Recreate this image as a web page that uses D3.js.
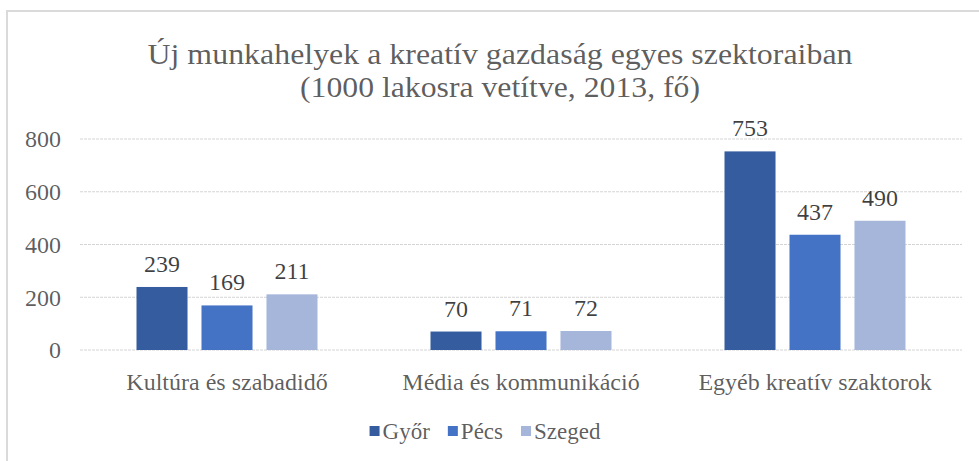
<!DOCTYPE html>
<html>
<head>
<meta charset="utf-8">
<script src="https://cdn.jsdelivr.net/npm/d3@7"></script>
<style>
  body { margin: 0; background: #fff; }
  svg { display: block; }
</style>
</head>
<body>
<svg id="chart" width="979" height="461"></svg>
<script>
const categories = ['Kultúra és szabadidő', 'Média és kommunikáció', 'Egyéb kreatív szaktorok'];
const series = ['Győr', 'Pécs', 'Szeged'];
const gyor = [239, 70, 753];
const pecs = [169, 71, 437];
const szeged = [211, 72, 490];
const yTicks = [0, 200, 400, 600, 800];
const titleLines = ['Új munkahelyek  a kreatív  gazdaság  egyes  szektoraiban', '(1000 lakosra  vetítve,  2013, fő)'];
const colors = ['#355c9e', '#4472c4', '#a6b5da'];

const values = [gyor, pecs, szeged];
const font = "'Liberation Serif'";
const svg = d3.select('#chart');

// frame (only top and left edges show)
svg.append('path').attr('d', 'M7,461V11H979').attr('fill', 'none')
  .attr('stroke', '#dadada').attr('stroke-width', 2);

const x0 = d3.scaleBand().domain(categories).range([80, 962]);
const x1 = d3.scaleBand().domain(series).range([56.5, 237.5]).paddingInner(0.215);
const y = d3.scaleLinear().domain([0, 800]).range([350, 139]);
const color = d3.scaleOrdinal().domain(series).range(colors);

// gray text as black with opacity
function label(sel, size, op) {
  sel.style('font-family', font).attr('font-size', size)
    .attr('fill', '#000').attr('fill-opacity', op);
}

// title
svg.append('g').selectAll('text').data(titleLines).join('text')
  .attr('x', 500).attr('y', (d, i) => 64 + i * 33)
  .attr('text-anchor', 'middle')
  .attr('textLength', (d, i) => i === 0 ? 705 : 400)
  .attr('lengthAdjust', 'spacingAndGlyphs')
  .call(label, 29, 0.65)
  .text(d => d);

// gridlines
svg.append('g').selectAll('line').data(yTicks).join('line')
  .attr('x1', 80).attr('x2', 962)
  .attr('y1', d => y(d)).attr('y2', d => y(d))
  .attr('stroke', '#d4d4d4').attr('stroke-width', 1)
  .attr('stroke-dasharray', '3,1');

// y axis labels
const yAxis = svg.append('g').attr('transform', 'translate(61,0)')
  .call(d3.axisLeft(y).tickValues(yTicks).tickSize(0).tickPadding(0))
  .attr('font-family', null).attr('font-size', null);
yAxis.select('.domain').remove();
yAxis.selectAll('text').call(label, 24, 0.65).attr('dy', '0.33em');

// bars
const groups = svg.append('g').selectAll('g').data(categories).join('g')
  .attr('transform', d => `translate(${x0(d)},0)`);

const cells = groups.selectAll('g').data((c, ci) => series.map((s, si) => ({ s, v: values[si][ci] })))
  .join('g');

cells.append('rect')
  .attr('x', d => x1(d.s)).attr('width', x1.bandwidth())
  .attr('y', d => y(d.v)).attr('height', d => y(0) - y(d.v))
  .attr('fill', d => color(d.s));

cells.append('text')
  .attr('x', d => x1(d.s) + x1.bandwidth() / 2)
  .attr('y', d => y(d.v) - 15)
  .attr('text-anchor', 'middle')
  .call(label, 24, 0.75)
  .text(d => d.v);

// category labels
const xAxis = svg.append('g').attr('transform', 'translate(0,350)')
  .call(d3.axisBottom(x0).tickSize(0).tickPadding(0))
  .attr('font-family', null).attr('font-size', null);
xAxis.select('.domain').remove();
xAxis.selectAll('text').call(label, 24, 0.65).attr('dy', 0).attr('y', 40);

// legend
const legend = svg.append('g');
let lx = 0;
series.forEach((s, i) => {
  const item = legend.append('g').attr('transform', `translate(${lx},0)`);
  item.append('rect').attr('x', 0).attr('y', -5).attr('width', 10).attr('height', 10)
    .attr('fill', colors[i]);
  const t = item.append('text').attr('x', 13).attr('y', 0).attr('dy', '0.33em')
    .call(label, 23, 0.65)
    .text(s);
  lx += 13 + t.node().getComputedTextLength() + 18;
});
const lw = lx - 18;
legend.attr('transform', `translate(${485 - lw / 2},431)`);
</script>
</body>
</html>
